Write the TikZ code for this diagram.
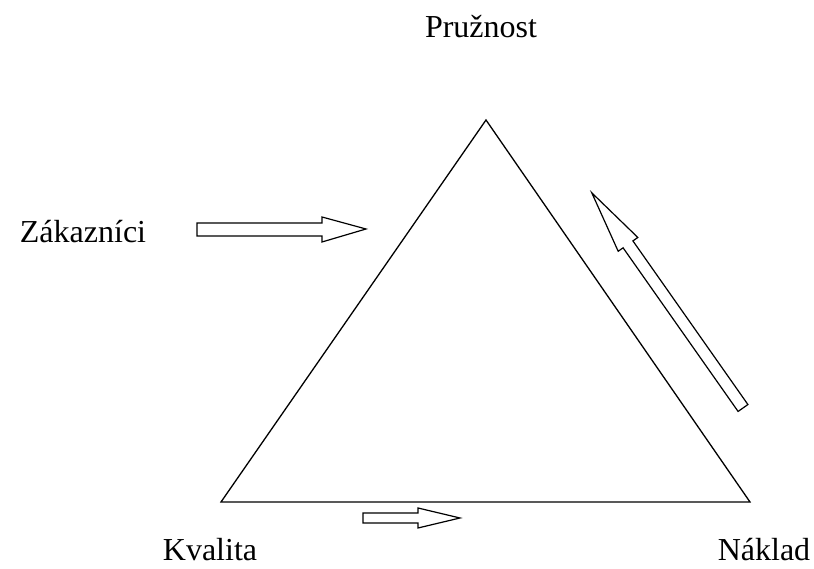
\documentclass[tikz,border=0pt]{standalone}
\usepackage{fontspec}
\setmainfont{Liberation Serif}
\begin{document}
\begin{tikzpicture}[x=1pt,y=1pt,
  edge/.style={line width=1.3pt, line join=miter},
  blockarrow/.style={draw, line width=1.2pt, line join=miter, fill=white},
  label/.style={font=\fontsize{32}{37}\selectfont, inner sep=0pt}]
  \useasboundingbox (0,0) rectangle (814,569);

  % corner labels
  \node[label] (pruz) at (481,542) {Pružnost};
  \node[label] (zak)  at (83,337)  {Zákazníci};
  \node[label] (kval) at (210,19)  {Kvalita};
  \node[label] (nakl) at (764,19)  {Náklad};

  % the triangle
  \coordinate (top) at (486,449);
  \coordinate (bl)  at (221,67);
  \coordinate (br)  at (750,67);
  \draw[edge] (top) -- (bl) -- (br) -- cycle;

  % arrow pointing at the triangle from the left
  \draw[blockarrow] (197,333) -- (322,333) -- (322,327) -- (366,340)
    -- (322,352) -- (322,346) -- (197,346) -- cycle;

  % arrow along the base
  \draw[blockarrow] (363,46) -- (418,46) -- (418,41) -- (460,51)
    -- (418,61) -- (418,56) -- (363,56) -- cycle;

  % arrow running up along the right side
  \begin{scope}[shift={(743,161)}, rotate=125.1]
    \draw[blockarrow] (0,-6) -- (200,-6) -- (200,-12) -- (263,0)
      -- (200,12) -- (200,6) -- (0,6) -- cycle;
  \end{scope}
\end{tikzpicture}
\end{document}
